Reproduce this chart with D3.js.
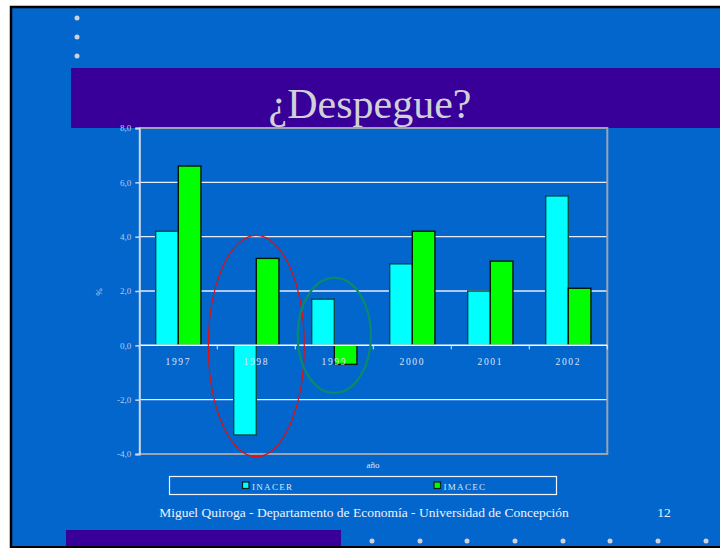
<!DOCTYPE html>
<html>
<head>
<meta charset="utf-8">
<script src="https://cdn.jsdelivr.net/npm/d3@7"></script>
<style>
html,body{margin:0;padding:0;background:#fff;}
svg{display:block;}
</style>
</head>
<body>
<script>
// ---- data ----
const years = ["1997","1998","1999","2000","2001","2002"];
const series = ["INACER","IMACEC"];
const inacer = [4.2, -3.3, 1.7, 3.0, 2.0, 5.5];
const imacec = [6.6, 3.2, -0.7, 4.2, 3.1, 2.1];
const yTicks = [-4, -2, 0, 2, 4, 6, 8];
const colors = {INACER:"#00ffff", IMACEC:"#00ff00"};
const strokes = {INACER:"#004a4a", IMACEC:"#001a00"};
// highlight ellipses: year, top value, bottom value, half-width as fraction of band
const highlights = [
  {year:"1998", top:4.05, bottom:-4.1, half:0.615, color:"#e01010", width:1.2},
  {year:"1999", top:2.48, bottom:-1.75, half:0.47, color:"#0a8a6a", width:2.2}
];

(function(){
const W = 720, H = 548;
const svg = d3.select("body").append("svg").attr("width", W).attr("height", H);

// slide background
svg.append("rect").attr("x",10).attr("y",6).attr("width",W-10).attr("height",541).attr("fill","#0366cc");
svg.append("path").attr("d","M11,548 V7 H720").attr("fill","none").attr("stroke","#000").attr("stroke-width",2.5);
svg.append("line").attr("x1",10).attr("x2",720).attr("y1",547).attr("y2",547).attr("stroke","#000").attr("stroke-width",2);

// top bullets
[18,37,56].forEach(cy=>svg.append("circle").attr("cx",77).attr("cy",cy).attr("r",2.5).attr("fill","#d0d0d8"));
// title band
svg.append("rect").attr("x",71).attr("y",68).attr("width",W-71).attr("height",60).attr("fill","#380098");
// bottom band
svg.append("rect").attr("x",66).attr("y",530).attr("width",275).attr("height",16).attr("fill","#380098");
[372,420,467,515,563,610,658,706].forEach(cx=>svg.append("circle").attr("cx",cx).attr("cy",541).attr("r",2.5).attr("fill","#d0d0d8"));

// title
svg.append("text").attr("x",370).attr("y",118).attr("text-anchor","middle")
  .attr("font-family","Liberation Serif, Times New Roman, serif").attr("font-size",42)
  .attr("fill","#d0d0d8").text("¿Despegue?");

// ---- chart ----
const pl = 139.3, pr = 607.3, pt = 128, pb = 454;
const x0 = d3.scaleBand().domain(years).range([pl, pr]).paddingInner(0).paddingOuter(0);
const bw = x0.bandwidth();
const x1 = d3.scaleBand().domain(series).range([bw*0.21, bw*0.79]);
const y = d3.scaleLinear().domain([-4, 8]).range([pb, pt]);

const g = svg.append("g");
// gridlines
g.selectAll("line.grid").data(yTicks.filter(t=>t!==8 && t!==-4 && t!==0)).enter().append("line")
  .attr("x1",pl).attr("x2",pr).attr("y1",d=>y(d)).attr("y2",d=>y(d))
  .attr("stroke","#e8ecff").attr("stroke-width",1.3);

// plot border (top, right, bottom)
g.append("path").attr("d",`M${pl},${y(8)} H${pr} V${y(-4)} H${pl}`)
  .attr("fill","none").attr("stroke","#9aa3b0").attr("stroke-width",2);

// bars
const data = years.map((yr,i)=>({year:yr, values:[{k:"INACER",v:inacer[i]},{k:"IMACEC",v:imacec[i]}]}));
const groups = g.selectAll("g.yr").data(data).enter().append("g")
  .attr("transform",d=>`translate(${x0(d.year)},0)`);
groups.selectAll("rect").data(d=>d.values).enter().append("rect")
  .attr("x",d=>x1(d.k)).attr("width",x1.bandwidth())
  .attr("y",d=>y(Math.max(0,d.v))).attr("height",d=>Math.abs(y(d.v)-y(0)))
  .attr("fill",d=>colors[d.k]).attr("stroke",d=>strokes[d.k]).attr("stroke-width",1.4);

// zero line
g.append("line").attr("x1",pl).attr("x2",pr).attr("y1",y(0)).attr("y2",y(0))
  .attr("stroke","#ffffff").attr("stroke-width",1.5);
// category tick marks on zero line
const bounds = years.map(d=>x0(d)+bw).concat([pl]);
g.selectAll("line.ct").data(bounds).enter().append("line")
  .attr("x1",d=>d).attr("x2",d=>d).attr("y1",y(0)).attr("y2",y(0)+4)
  .attr("stroke","#e8ecff").attr("stroke-width",1);
// category labels
g.selectAll("text.cat").data(years).enter().append("text")
  .attr("x",d=>x0(d)+bw/2).attr("y",y(0)+20).attr("text-anchor","middle")
  .attr("font-family","Liberation Serif, Times New Roman, serif").attr("font-size",9.5)
  .attr("letter-spacing","1.6px").attr("fill","#dde6f5").text(d=>d);

// y axis
const yAxis = d3.axisLeft(y).tickValues(yTicks).tickSize(4)
  .tickFormat(d=>d.toFixed(1).replace(".",",").replace("\u2212","-"));
const ya = g.append("g").attr("transform",`translate(${pl},0)`).call(yAxis);
ya.select(".domain").attr("stroke","#d0d8e8").attr("stroke-width",2);
ya.selectAll(".tick line").attr("stroke","#d0d8e8").attr("stroke-width",1.5);
ya.selectAll(".tick text").attr("font-family","Liberation Serif, Times New Roman, serif")
  .attr("font-size",9).attr("fill","#b8cbe8").attr("x",-8);

// axis titles
svg.append("text").attr("transform",`translate(${102},${292}) rotate(-90)`).attr("text-anchor","middle")
  .attr("font-family","Liberation Serif, Times New Roman, serif").attr("font-size",9).attr("fill","#b8cbe8").text("%");
svg.append("text").attr("x",373).attr("y",468).attr("text-anchor","middle")
  .attr("font-family","Liberation Serif, Times New Roman, serif").attr("font-size",9).attr("fill","#dde6f5").text("año");

// highlight ellipses
g.selectAll("ellipse").data(highlights).enter().append("ellipse")
  .attr("cx",d=>x0(d.year)+bw/2).attr("cy",d=>(y(d.top)+y(d.bottom))/2)
  .attr("rx",d=>bw*d.half).attr("ry",d=>(y(d.bottom)-y(d.top))/2)
  .attr("fill","none").attr("stroke",d=>d.color).attr("stroke-width",d=>d.width);

// legend
svg.append("rect").attr("x",169.5).attr("y",476.5).attr("width",387).attr("height",18)
  .attr("fill","none").attr("stroke","#f0f4ff").attr("stroke-width",1.2);
const legX = {INACER:242.5, IMACEC:434};
series.forEach(s=>{
  svg.append("rect").attr("x",legX[s]).attr("y",482).attr("width",6.5).attr("height",6.5)
    .attr("fill",colors[s]).attr("stroke","#002020").attr("stroke-width",1.2);
  svg.append("text").attr("x",legX[s]+9.5).attr("y",489.5)
    .attr("font-family","Liberation Serif, Times New Roman, serif").attr("font-size",9)
    .attr("letter-spacing","1.3px").attr("fill","#dde6f5").text(s);
});

// footer
svg.append("text").attr("x",364).attr("y",517).attr("text-anchor","middle")
  .attr("font-family","Liberation Serif, Times New Roman, serif").attr("font-size",13.5)
  .attr("fill","#eef2ff").text("Miguel Quiroga - Departamento de Economía - Universidad de Concepción");
svg.append("text").attr("x",664).attr("y",517).attr("text-anchor","middle")
  .attr("font-family","Liberation Serif, Times New Roman, serif").attr("font-size",13.5)
  .attr("fill","#eef2ff").text("12");
})();
</script>
</body>
</html>
